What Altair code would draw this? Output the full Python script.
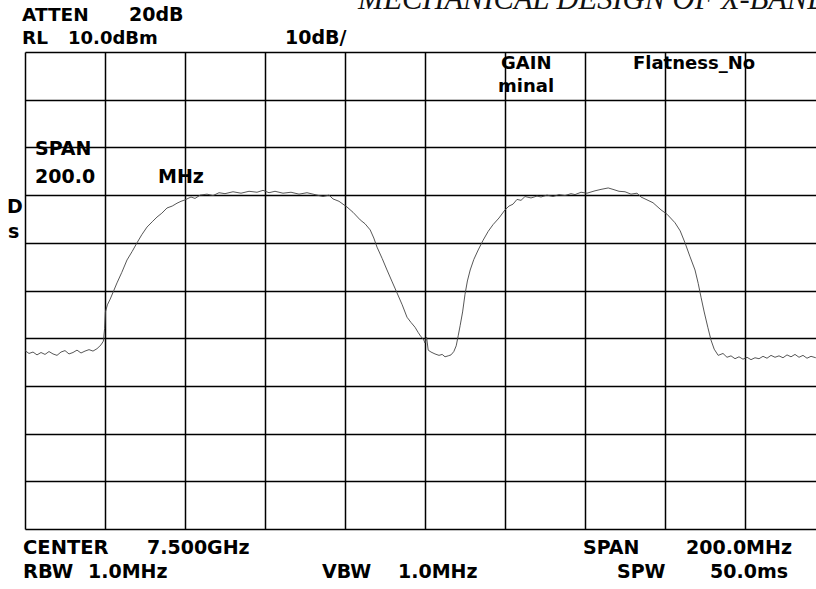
import altair as alt
import pandas as pd

# ---- data ----
freq_mhz = [
    7400.0, 7401.0, 7402.0, 7403.0, 7404.0, 7405.0, 7406.0, 7407.0, 7408.0, 7409.0,
    7410.0, 7411.0, 7412.0, 7413.0, 7414.0, 7415.0, 7416.0, 7417.0, 7418.0, 7419.0,
    7419.6, 7419.9, 7420.1, 7420.6, 7421.3, 7422.2, 7423.0, 7424.2, 7425.5, 7426.8,
    7428.0, 7429.2, 7430.5, 7431.8, 7433.0, 7434.2, 7435.5, 7436.8, 7438.0, 7439.0,
    7440.0, 7441.5, 7442.5, 7443.8, 7445.5, 7447.0, 7448.5, 7450.0, 7452.0, 7454.0,
    7456.0, 7458.0, 7459.5, 7461.0, 7462.5, 7464.5, 7466.5, 7468.5, 7470.5, 7473.0,
    7474.5, 7476.0, 7477.0, 7478.5, 7480.5, 7482.0, 7483.8, 7485.0, 7486.3, 7487.2,
    7488.0, 7489.3, 7490.5, 7491.8, 7493.0, 7494.3, 7495.5, 7496.5, 7497.5, 7498.3,
    7499.0, 7499.6, 7500.0, 7500.4, 7500.8, 7501.5, 7502.5, 7503.5, 7504.3, 7505.0,
    7505.8, 7506.5, 7507.2, 7507.8, 7508.3, 7508.8, 7509.4, 7510.0, 7510.6, 7511.3,
    7512.2, 7513.3, 7514.5, 7515.8, 7517.0, 7518.5, 7520.0, 7521.0, 7522.0, 7523.0,
    7524.0, 7525.0, 7526.5, 7528.0, 7529.0, 7530.5, 7532.0, 7533.5, 7535.0, 7536.5,
    7537.5, 7539.0, 7540.5, 7542.5, 7544.0, 7545.8, 7547.0, 7548.5, 7550.0, 7551.5,
    7553.0, 7554.0, 7555.5, 7557.0, 7559.0, 7560.5, 7562.5, 7563.8, 7565.0, 7566.2,
    7567.5, 7568.3, 7569.0, 7569.8, 7570.7, 7571.5, 7572.3, 7573.3, 7574.5, 7575.5,
    7576.5, 7577.5, 7578.5, 7579.5, 7580.5, 7581.5, 7582.5, 7583.5, 7584.5, 7585.5,
    7586.5, 7587.5, 7588.5, 7589.5, 7590.5, 7591.5, 7592.5, 7593.5, 7594.5, 7595.5,
    7596.5, 7597.7,
]
level_dbm = [
    -52.6, -53.2, -52.9, -53.5, -53.0, -53.4, -52.8, -53.3, -53.6, -52.9,
    -52.6, -53.3, -53.0, -52.5, -53.1, -52.7, -52.4, -52.7, -52.2, -51.4,
    -50.6, -48.0, -44.5, -43.0, -41.8, -40.0, -38.4, -36.2, -33.6, -31.8,
    -30.0, -28.3, -26.7, -25.6, -24.6, -23.8, -22.7, -22.3, -21.7, -21.3,
    -21.0, -20.4, -20.7, -20.0, -19.8, -20.1, -19.5, -19.7, -19.3, -19.6,
    -19.2, -19.4, -19.0, -19.5, -19.2, -19.6, -19.4, -19.8, -19.5, -20.0,
    -20.3, -20.0, -20.8, -21.3, -22.5, -23.6, -25.2, -26.0, -27.3, -29.0,
    -30.9, -33.3, -35.7, -38.2, -40.5, -43.0, -45.6, -46.7, -47.7, -48.8,
    -49.7, -50.2, -51.0, -49.8, -52.5, -52.9, -53.3, -53.6, -53.4, -53.9,
    -53.7, -53.5, -52.8, -51.6, -49.5, -47.3, -44.5, -40.8, -38.0, -35.7,
    -33.5, -31.5, -29.5, -27.6, -26.2, -24.8, -23.1, -22.3, -21.9, -20.9,
    -21.1, -20.3, -20.6, -20.2, -20.4, -20.0, -20.3, -19.9, -20.1, -19.7,
    -19.9, -19.4, -19.6, -19.1, -18.8, -18.5, -18.8, -19.2, -19.3, -19.8,
    -19.6, -20.4, -21.0, -21.6, -23.1, -24.0, -25.8, -27.5, -30.0, -32.8,
    -35.7, -38.5, -41.4, -44.5, -47.7, -50.4, -52.3, -53.6, -53.2, -54.0,
    -53.7, -54.3, -53.9, -54.4, -54.0, -54.5, -54.1, -54.3, -53.8, -54.2,
    -53.6, -54.0, -53.7, -54.1, -53.5, -53.9, -53.4, -54.0, -53.6, -54.2,
    -53.8, -54.1,
]

x_grid_mhz = [7400, 7420, 7440, 7460, 7480, 7500, 7520, 7540, 7560, 7580]
y_grid_dbm = [10, 0, -10, -20, -30, -40, -50, -60, -70, -80, -90]

labels = [
    "ATTEN", "20dB", "RL", "10.0dBm", "10dB/", "GAIN", "minal", "Flatness_No",
    "SPAN", "200.0", "MHz", "D", "s",
    "CENTER", "7.500GHz", "RBW", "1.0MHz", "VBW", "1.0MHz",
    "SPAN", "200.0MHz", "SPW", "50.0ms",
]
header_text = "MECHANICAL DESIGN OF X-BAND"

# ---- layout (pixel positions of annotation text, absolute in page) ----
PAD_L, PAD_T = 25, 52
label_x = [22, 129, 22, 68, 285, 501, 498, 633,
           35, 35, 158, 7, 8,
           23, 147, 23, 88, 322, 398,
           583, 686, 617, 710]
label_y = [21, 21, 44, 44, 44, 69, 92, 69,
           155, 183, 183, 213, 238,
           554, 554, 578, 578, 578, 578,
           554, 554, 578, 578]
label_size = [18.5, 19, 18.5, 18, 19, 18, 18, 18,
              19, 19, 19, 19, 19,
              19.5, 19, 19.5, 19, 19, 19,
              19, 19, 19, 19]

trace = pd.DataFrame({"f": freq_mhz, "p": level_dbm})
txt = pd.DataFrame({
    "t": labels,
    "px": [v - PAD_L for v in label_x],
    "py": [v - PAD_T for v in label_y],
    "fs": label_size,
})
hdr = pd.DataFrame({"t": [header_text], "px": [358 - PAD_L], "py": [9 - PAD_T]})

W, H = 791, 477
xs = alt.Scale(domain=[7400, 7400 + W / 4.0], nice=False, zero=False)
ys = alt.Scale(domain=[-90, 10], nice=False, zero=False)

line = alt.Chart(trace).mark_line(color="#444444", strokeWidth=0.9, clip=True).encode(
    x=alt.X("f:Q", scale=xs,
            axis=alt.Axis(values=x_grid_mhz, grid=True, gridColor="#000000", gridWidth=1.5,
                          gridOpacity=1, labels=False, ticks=False, domain=False, title=None)),
    y=alt.Y("p:Q", scale=ys,
            axis=alt.Axis(values=y_grid_dbm, grid=True, gridColor="#000000", gridWidth=1.5,
                          gridOpacity=1, labels=False, ticks=False, domain=False, title=None)),
)

texts = alt.Chart(txt).mark_text(
    font="DejaVu Sans", fontWeight="bold", align="left", baseline="alphabetic", color="#000000"
).encode(
    x=alt.X("px:Q", scale=None, axis=None),
    y=alt.Y("py:Q", scale=None, axis=None),
    text="t:N",
    size=alt.Size("fs:Q", scale=None, legend=None),
)

header = alt.Chart(hdr).mark_text(
    font="Liberation Serif", fontStyle="italic", fontSize=30.5, align="left",
    baseline="alphabetic", color="#111111"
).encode(
    x=alt.X("px:Q", scale=None, axis=None),
    y=alt.Y("py:Q", scale=None, axis=None),
    text="t:N",
)

chart = alt.layer(line, texts, header).resolve_scale(
    x="independent", y="independent"
).properties(
    width=W, height=H,
    autosize=alt.AutoSizeParams(type="none"),
    padding={"left": PAD_L, "top": PAD_T, "right": 0, "bottom": 589 - PAD_T - H},
    background="#ffffff",
).configure_view(stroke=None)

chart.save("out.html", embed_options={"renderer": "svg", "actions": False})
